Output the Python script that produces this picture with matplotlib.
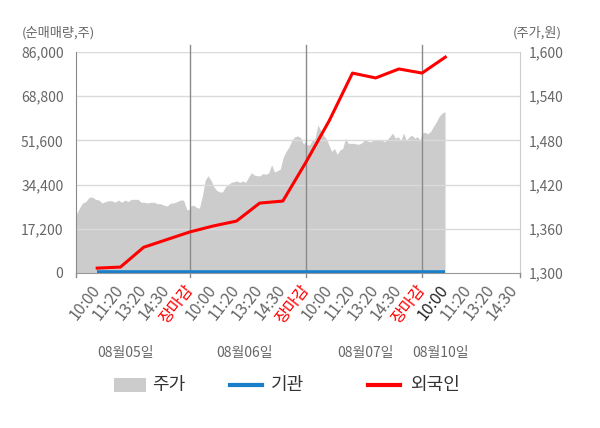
import matplotlib
matplotlib.use('Agg')
import matplotlib.pyplot as plt
import numpy as np
import matplotlib.transforms as mtransforms
from matplotlib.patches import Rectangle
from matplotlib.lines import Line2D
from matplotlib.ticker import FuncFormatter

plt.rcParams['font.family'] = ['Noto Sans CJK KR', 'DejaVu Sans']

# ---------------- data ----------------
time_labels = ['10:00', '11:20', '13:20', '14:30', '장마감',
               '10:00', '11:20', '13:20', '14:30', '장마감',
               '10:00', '11:20', '13:20', '14:30', '장마감',
               '10:00', '11:20', '13:20', '14:30']
date_labels = ['08월05일', '08월06일', '08월07일', '08월10일']

# cumulative net buying (shares) at each time label (first 16 labels)
foreign = [1900, 2300, 10000, 13000, 16000, 18300, 20200, 27200, 28000,
           43200, 59300, 77800, 75900, 79400, 77800, 84000]
institution = [300, 300, 300, 300, 300, 300, 300, 300, 300,
               300, 300, 300, 300, 300, 300, 300]

# intraday stock price (won)
price_0805 = [1379, 1388, 1395, 1397, 1403, 1403, 1400, 1399, 1395, 1397,
              1398, 1398, 1396, 1399, 1396, 1399, 1397, 1400, 1400, 1400,
              1396, 1396, 1395, 1396, 1396, 1394, 1394, 1392, 1391, 1395,
              1395, 1397, 1399, 1399, 1386, 1386]
price_0806 = [1391, 1392, 1389, 1388, 1404, 1426, 1432, 1426, 1417, 1412,
              1410, 1410, 1417, 1420, 1423, 1424, 1425, 1423, 1425, 1423,
              1430, 1436, 1433, 1432, 1432, 1435, 1434, 1436, 1447, 1437,
              1439, 1441, 1457, 1465, 1471, 1480, 1485, 1486, 1484, 1475,
              1480]
price_0807 = [1474, 1474, 1480, 1483, 1501, 1494, 1487, 1483, 1474, 1465,
              1469, 1461, 1467, 1469, 1483, 1476, 1476, 1476, 1475, 1475,
              1477, 1481, 1479, 1478, 1480, 1481, 1480, 1481, 1478, 1481,
              1485, 1490, 1483, 1485, 1480, 1490, 1480, 1485, 1487, 1483,
              1485, 1480]
price_0810 = [1490, 1491, 1489, 1492, 1499, 1505, 1513, 1517, 1519]

# ---------------- layout ----------------
W, H = 600, 428
fig = plt.figure(figsize=(W / 100, H / 100), dpi=100)
ax = fig.add_axes([76 / W, 1 - 273 / H, 444 / W, 221 / H])
ax2 = ax.twinx()
ax.set_zorder(ax2.get_zorder() + 1)
ax.patch.set_visible(False)
ax2.patch.set_facecolor('#f4f4f4')

# x positions: each time label is one unit; days are 5 units wide
tick_pos = np.arange(1, len(time_labels) + 1)
day_spans = [(0.09, 5.0), (5.03, 10.01), (10.03, 14.92), (14.99, 15.99)]
px, py = [], []
for (a, b), pr in zip(day_spans, [price_0805, price_0806, price_0807, price_0810]):
    px.extend(np.linspace(a, b, len(pr)))
    py.extend(pr)

ax2.fill_between(px, py, 1300, color='#cccccc', lw=0, zorder=1)
ax2.set_ylim(1300, 1600)
ax2.set_yticks([1300, 1360, 1420, 1480, 1540, 1600])
ax2.yaxis.set_major_formatter(FuncFormatter(lambda v, p: f'{int(v):,}'))

ax.set_xlim(0.086, 19.22)
ax.set_ylim(0, 86000)
yt = [0, 17200, 34400, 51600, 68800, 86000]
ax.set_yticks(yt)
ax.yaxis.set_major_formatter(FuncFormatter(lambda v, p: f'{int(v):,}'))
for v in yt[1:]:
    ax.axhline(v, color='#dadada', lw=1, zorder=1)

for d in [5, 10, 15]:
    ax.axvline(d, ymin=-0.02, ymax=1.032, color='#8a8a8a', lw=1, clip_on=False, zorder=2)
ax.axvline(0.086, ymin=-0.02, ymax=0.0, color='#8a8a8a', lw=1, clip_on=False)
ax.axvline(19.22, ymin=-0.02, ymax=0.0, color='#8a8a8a', lw=1, clip_on=False)

n = len(foreign)
ax.plot(tick_pos[:n], institution, color='#1a7fcb', lw=2.6, zorder=3, solid_capstyle='butt')
ax.plot(tick_pos[:n], foreign, color='#ff0000', lw=2.2, zorder=4)

# spines
for s in ['top', 'right']:
    ax.spines[s].set_visible(False)
ax.spines['left'].set_color('#8a8a8a')
ax.spines['bottom'].set_color('#999999')
for s in ['top', 'left', 'bottom']:
    ax2.spines[s].set_visible(False)
ax2.spines['right'].set_color('#cccccc')

ax.tick_params(axis='y', length=0, pad=9, labelsize=10, labelcolor='#666666')
ax2.tick_params(axis='y', length=0, pad=6, labelsize=10, labelcolor='#666666')

ax.set_xticks(tick_pos)
ax.set_xticklabels(time_labels, rotation=52, ha='right', va='center',
                   rotation_mode='anchor', fontsize=11.5)
ax.tick_params(axis='x', length=0, pad=10)
for i, t in enumerate(ax.get_xticklabels()):
    if time_labels[i] == '장마감':
        t.set_color('#ff0000')
    elif i == 15:
        t.set_color('#222222')
    else:
        t.set_color('#666666')

# date labels
trans = mtransforms.blended_transform_factory(ax.transData, fig.transFigure)
for xpos, lab in zip([2.2, 7.35, 12.55, 15.8], date_labels):
    ax.text(xpos, 1 - 353 / H, lab, transform=trans, ha='center', va='center',
            fontsize=10, color='#666666')

# axis titles
fig.text(22 / W, 1 - 33 / H, '(순매매량,주)', ha='left', va='center', fontsize=9.5, color='#666666')
fig.text(562 / W, 1 - 33 / H, '(주가,원)', ha='right', va='center', fontsize=9.5, color='#666666')

# legend (manual)
ly = 1 - 385 / H
fig.add_artist(Rectangle((114 / W, 1 - 392 / H), 32 / W, 14 / H, transform=fig.transFigure,
                         facecolor='#cccccc', edgecolor='none'))
fig.text(152 / W, ly, '주가', ha='left', va='center', fontsize=13, color='#333333')
fig.add_artist(Line2D([230 / W, 262 / W], [ly, ly], transform=fig.transFigure,
                      color='#1a7fcb', lw=3))
fig.text(271 / W, ly, '기관', ha='left', va='center', fontsize=13, color='#333333')
fig.add_artist(Line2D([368 / W, 400 / W], [ly, ly], transform=fig.transFigure,
                      color='#ff0000', lw=3))
fig.text(410 / W, ly, '외국인', ha='left', va='center', fontsize=13, color='#333333')

fig.savefig('out.png', dpi=100)
